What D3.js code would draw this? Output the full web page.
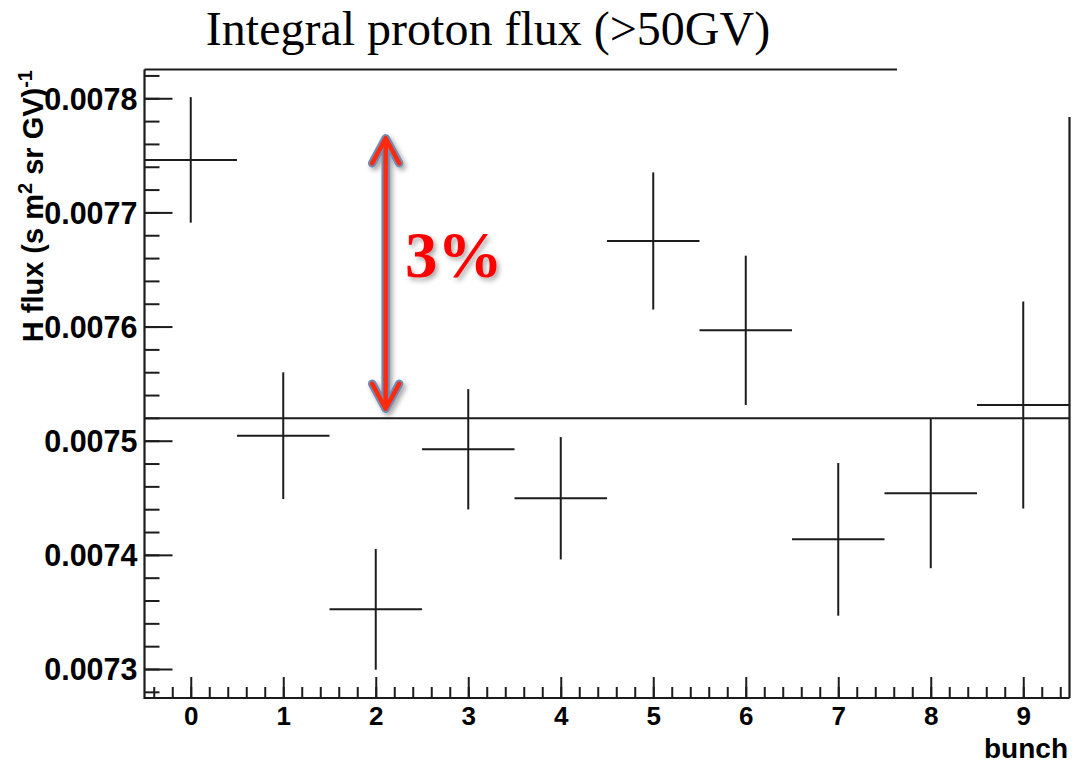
<!DOCTYPE html>
<html>
<head>
<meta charset="utf-8">
<script src="https://cdn.jsdelivr.net/npm/d3@7"></script>
<style>
  body { margin: 0; background: #fff; }
  svg { display: block; }
</style>
</head>
<body>
<svg id="chart" width="1083" height="766"></svg>
<script>
// Integral proton flux per bunch, with statistical errors
const bunches = [0, 1, 2, 3, 4, 5, 6, 7, 8, 9];
const flux = [0.007746, 0.0075044, 0.0073523, 0.0074925, 0.0074496,
              0.007675, 0.0075967, 0.0074136, 0.0074539, 0.0075313];
const fluxErr = [0.000055, 0.0000555, 0.0000529, 0.0000527, 0.0000536,
                 0.0000601, 0.0000654, 0.0000669, 0.0000656, 0.0000907];
// constant fit over all bunches
const meanFlux = 0.0075196;
// tick labels
const xTickLabels = [0, 1, 2, 3, 4, 5, 6, 7, 8, 9];
const yTickLabels = [0.0073, 0.0074, 0.0075, 0.0076, 0.0077, 0.0078];
// spread annotation: arrow end points and its label
const spreadSpan = [0.007528, 0.007765];
const spreadLabel = "3%";

(function draw() {
  const svg = d3.select("#chart");
  const pLeft = 144.5, pRight = 1069.5, pTop = 69.5, pBottom = 698;
  const ink = "#1c1c1c";
  const sans = "'Liberation Sans', Arial, sans-serif";

  const x = d3.scaleLinear().domain([-0.5, 9.5]).range([pLeft, pRight]);
  const y = d3.scaleLinear().domain([0.0072746, 0.0078252]).range([pBottom, pTop]);

  const defs = svg.append("defs");
  const sh = defs.append("filter").attr("id", "shadow")
    .attr("x", "-50%").attr("y", "-20%").attr("width", "200%").attr("height", "140%");
  sh.append("feDropShadow").attr("dx", 2.5).attr("dy", 3).attr("stdDeviation", 2.5)
    .attr("flood-color", "#000").attr("flood-opacity", 0.35);

  // title
  svg.append("text")
    .attr("x", 488).attr("y", 45)
    .attr("text-anchor", "middle")
    .attr("font-family", "'Liberation Serif', 'Times New Roman', serif")
    .attr("font-size", 48)
    .attr("fill", "#000")
    .text("Integral proton flux (>50GV)");

  // y axis: major ticks with labels, minor ticks every 0.00002
  const yMinor = d3.range(364, 392).map(i => i * 0.00002);
  const yMinorAxis = d3.axisLeft(y).tickValues(yMinor).tickSize(-15).tickFormat("");
  svg.append("g").attr("transform", `translate(${pLeft},0)`).call(yMinorAxis)
    .call(g => g.select(".domain").remove())
    .call(g => g.selectAll("line").attr("stroke", ink).attr("stroke-width", 2));

  const yAxis = d3.axisLeft(y).tickValues(yTickLabels).tickSize(-28).tickPadding(7)
    .tickFormat(d3.format(".4f"));
  svg.append("g").attr("transform", `translate(${pLeft},0)`).call(yAxis)
    .call(g => g.select(".domain").remove())
    .call(g => g.selectAll("line").attr("stroke", ink).attr("stroke-width", 2))
    .call(g => g.selectAll("text")
      .attr("font-family", sans)
      .attr("font-weight", "bold").attr("font-size", 30.5).attr("fill", "#000")
      .attr("dy", "0.36em"));

  // x axis: major ticks per bunch, minor every 0.2
  const xMinor = d3.range(-2, 48).map(i => i * 0.2);
  const xMinorAxis = d3.axisBottom(x).tickValues(xMinor).tickSize(-11).tickFormat("");
  svg.append("g").attr("transform", `translate(0,${pBottom})`).call(xMinorAxis)
    .call(g => g.select(".domain").remove())
    .call(g => g.selectAll("line").attr("stroke", ink).attr("stroke-width", 2));

  const xAxis = d3.axisBottom(x).tickValues(xTickLabels).tickSize(-21).tickPadding(9)
    .tickFormat(d3.format("d"));
  svg.append("g").attr("transform", `translate(0,${pBottom})`).call(xAxis)
    .call(g => g.select(".domain").remove())
    .call(g => g.selectAll("line").attr("stroke", ink).attr("stroke-width", 2))
    .call(g => g.selectAll("text")
      .attr("font-family", sans)
      .attr("font-weight", "bold").attr("font-size", 26).attr("fill", "#000"));

  // frame: left and bottom axes, partial top and right edges
  const frame = svg.append("g").attr("stroke", ink).attr("stroke-width", 2.2).attr("fill", "none");
  frame.append("line").attr("x1", pLeft).attr("x2", pLeft).attr("y1", pTop).attr("y2", pBottom + 1);
  frame.append("line").attr("x1", pLeft).attr("x2", pRight).attr("y1", pBottom).attr("y2", pBottom);
  frame.append("line").attr("x1", pLeft).attr("x2", 897).attr("y1", pTop).attr("y2", pTop);
  frame.append("line").attr("x1", pRight).attr("x2", pRight).attr("y1", 117).attr("y2", pBottom);

  // axis titles
  svg.append("text")
    .attr("transform", "translate(43,70) rotate(-90)")
    .attr("text-anchor", "end")
    .attr("font-family", sans)
    .attr("font-weight", "bold").attr("font-size", 29).attr("fill", "#000")
    .call(t => {
      t.append("tspan").text("H flux (s m");
      t.append("tspan").attr("dy", -11).attr("font-size", 20).text("2");
      t.append("tspan").attr("dy", 11).text(" sr GV)");
      t.append("tspan").attr("dy", -11).attr("font-size", 20).text("-1");
    });

  svg.append("text")
    .attr("x", 1068).attr("y", 758)
    .attr("text-anchor", "end")
    .attr("font-family", sans)
    .attr("font-weight", "bold").attr("font-size", 28).attr("fill", "#000")
    .text("bunch");

  // fit line
  svg.append("line")
    .attr("x1", pLeft).attr("x2", pRight)
    .attr("y1", y(meanFlux)).attr("y2", y(meanFlux))
    .attr("stroke", ink).attr("stroke-width", 2);

  // data points: bin-width horizontal bar and vertical error bar
  const pts = svg.append("g").attr("stroke", ink).attr("stroke-width", 2);
  bunches.forEach((b, i) => {
    pts.append("line")
      .attr("x1", x(b - 0.5)).attr("x2", x(b + 0.5))
      .attr("y1", y(flux[i])).attr("y2", y(flux[i]));
    pts.append("line")
      .attr("x1", x(b)).attr("x2", x(b))
      .attr("y1", y(flux[i] + fluxErr[i])).attr("y2", y(flux[i] - fluxErr[i]));
  });

  // double-headed arrow showing the spread
  const ax = 385.7;
  const yTop = y(spreadSpan[1]), yBot = y(spreadSpan[0]);
  const hw = 13.5, hh = 25;
  const arrowPath = [
    `M${ax},${yTop + 2}L${ax},${yBot - 2}`,
    `M${ax - hw},${yTop + hh}L${ax},${yTop}L${ax + hw},${yTop + hh}`,
    `M${ax - hw},${yBot - hh}L${ax},${yBot}L${ax + hw},${yBot - hh}`
  ].join("");
  const arrow = svg.append("g").attr("filter", "url(#shadow)");
  arrow.append("path").attr("d", arrowPath).attr("fill", "none")
    .attr("stroke", "#6f8db5").attr("stroke-width", 8.5)
    .attr("stroke-linecap", "round").attr("stroke-linejoin", "round");
  arrow.append("path").attr("d", arrowPath).attr("fill", "none")
    .attr("stroke", "#ff2a10").attr("stroke-width", 4.5)
    .attr("stroke-linecap", "round").attr("stroke-linejoin", "round");

  svg.append("text")
    .attr("x", 405).attr("y", 277)
    .attr("font-family", "'Liberation Serif', 'DejaVu Serif', serif")
    .attr("font-weight", "bold").attr("font-size", 65)
    .attr("fill", "#ff0000")
    .attr("filter", "url(#shadow)")
    .text(spreadLabel);
})();
</script>
</body>
</html>
